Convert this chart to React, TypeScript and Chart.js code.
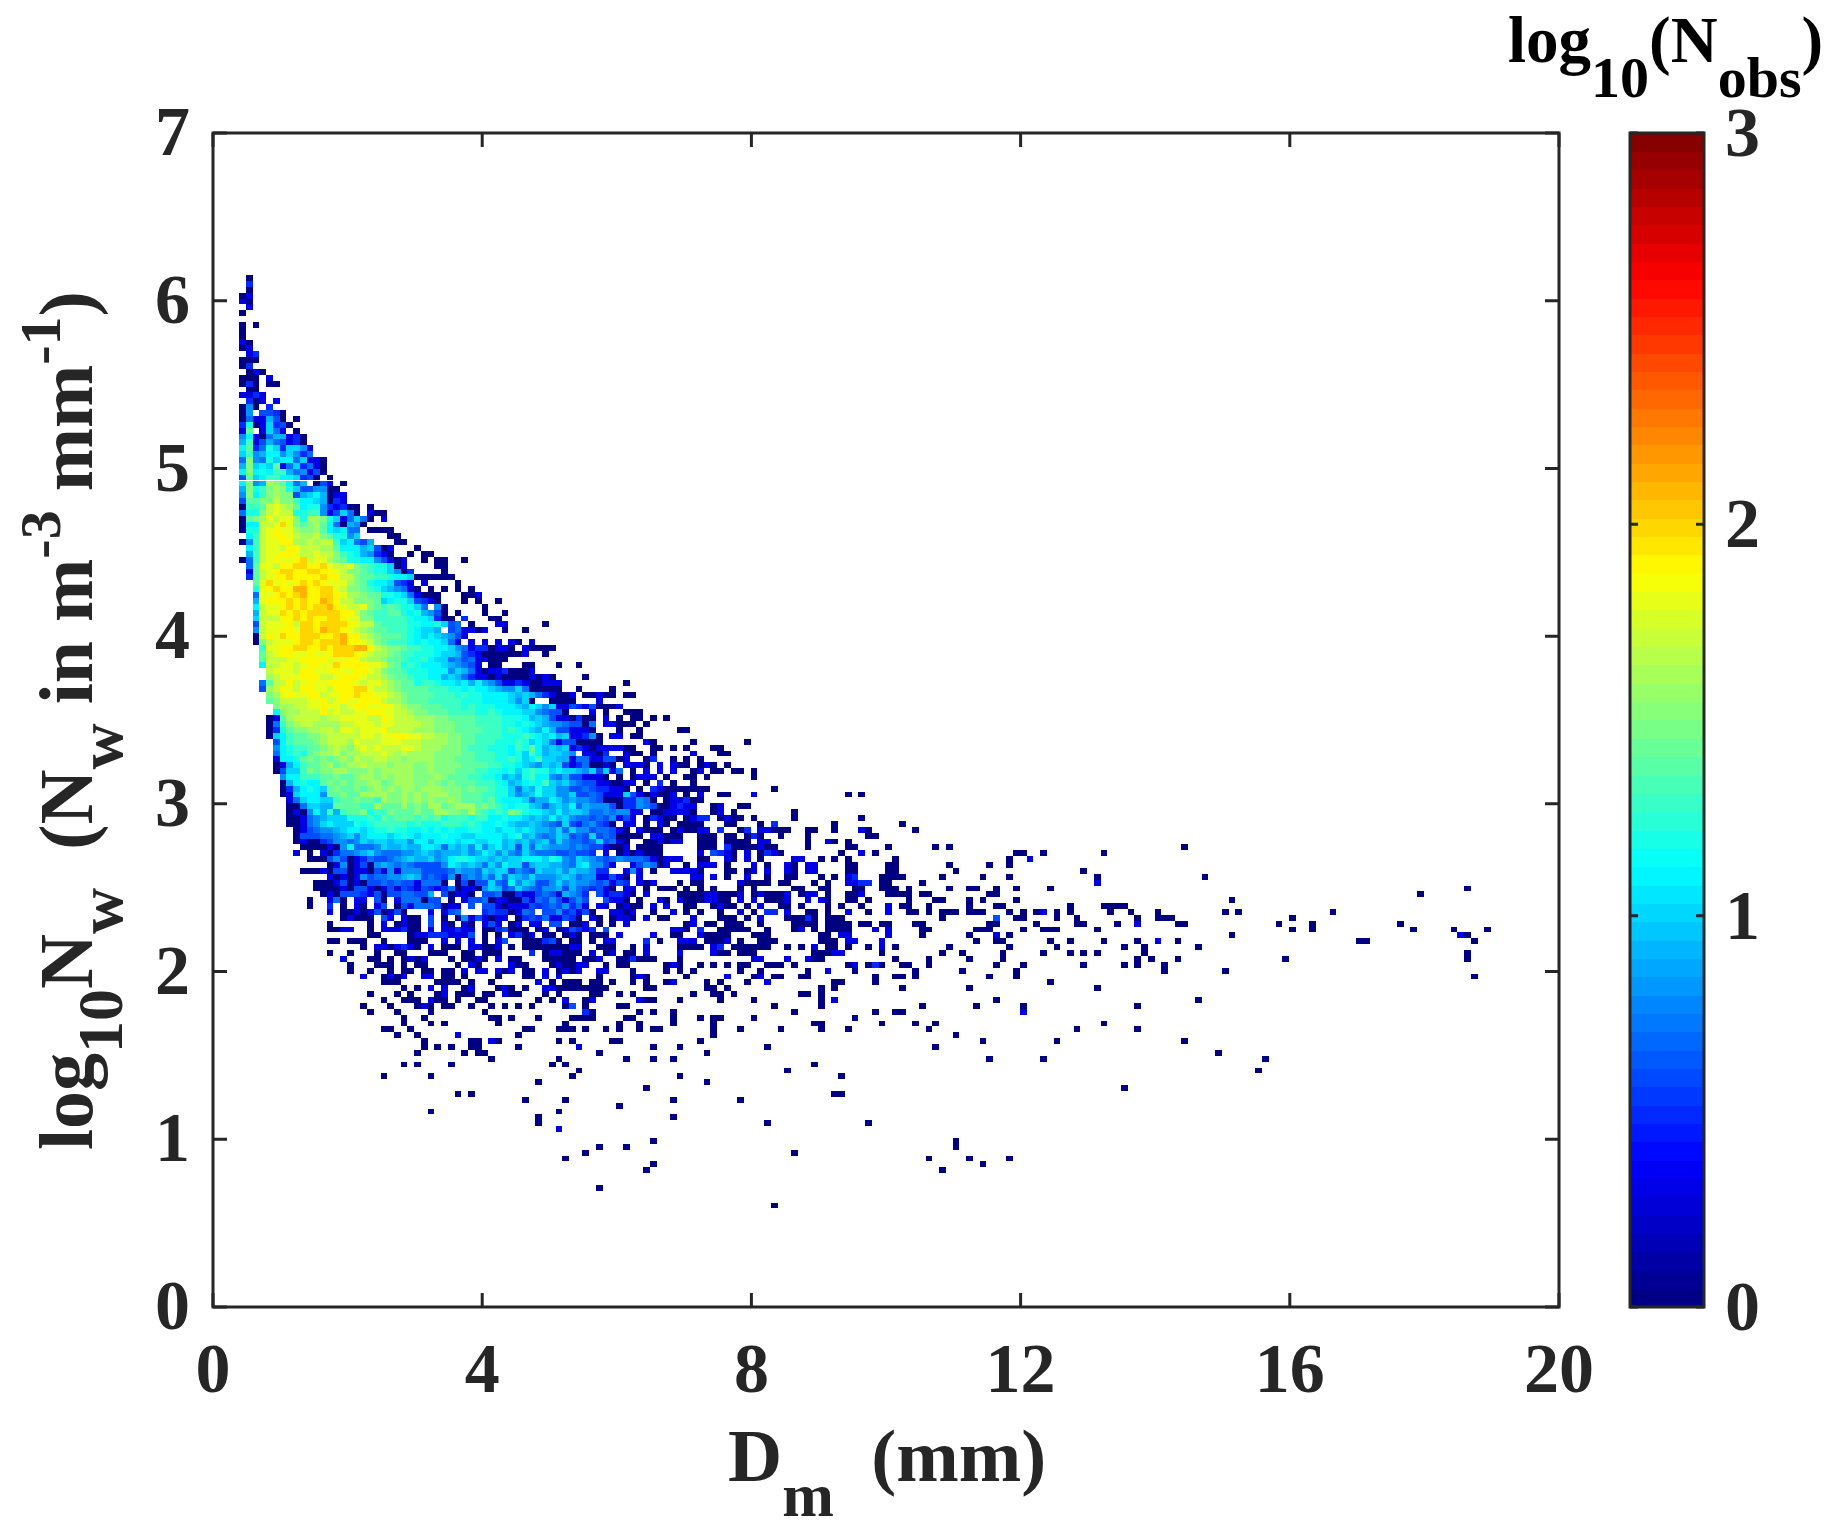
import React, { useEffect, useRef } from "react";
import { Chart, registerables, ScatterController, PointElement } from "chart.js";

Chart.register(...registerables);

// Histogram cells. Each entry: [row index, "col:levels col:levels"].
// A level is one base-36 digit = 10*log10(Nobs); "." is an empty cell.
const topRows: [number, string][] = [
  [175,"5:0"],[174,"5:5"],[173,"5:0"],[172,"4:03"],[171,"4:30"],[170,"5:3"],[169,"4:0"],
  [167,"4:0.0"],[166,"4:0"],[165,"4:0"],[164,"4:30"],[163,"4:03"],[162,"5:35"],[161,"4:000"],
  [160,"4:05"],[159,"5:030"],[158,"4:000 8:3"],[157,"4:050 8:00"],[156,"5:00"],[155,"4:3353"],
  [154,"5:503 9:3"],[153,"4:080 8:5"],[152,"4:08 7:6650"],[151,"4:0733960 12:0"],
  [150,"4:5c03a560"],[149,"4:3e 7:3a73 12:0"],[148,"4:8b30799350"],[147,"4:9d36976350"],
  [146,"4:be57ca5aa83"],[145,"4:ad89bb8a857"],[144,"4:7f87cabb7a33 16:0"],[143,"4:9fabae37a5730"],
  [142,"4:bfbcbdd978360"],[141,"4:6eabddbba560 17:0"],[140,"4:bf89gfeb79 15:06 17:3 19:0"],
  [139,"4:9fcdfgfca668800"],[138,"4:8fbdfgff69ab90 18:33"],[137,"4:6eeffhffdbba9053"],
  [136,"4:0ddehihgebcc853500 23:0"],[135,"4:7ccfhihhccdd836a70 23:300"],
  [134,"4:0efgihiifcggfca37a70 25:3"],[133,"4:0bbhhikifefgeb7098 22:0"],
  [132,"4:0cchijiigffgebab77 23:0000"],[131,"5:bdhijjihgghfecc8a 26:00"],
  [130,"4:08dhiijjgghghhdab769 27:00"],[129,"5:bdhiihjjhhhggebbb9a6 25:03 30:0"],
  [128,"5:9dhiijjihhihhfdcb98530 29:0.00"],
];

const coreRows: [number, string][] = [
  [127,"4:07dhijiijkhiigfeccbb86303 31:0.00..0"],
  [126,"5:7eiihjjkkjjkihhifedcca03 33:00"],
  [125,"5:3ehijkkjjkkjjihffedcca805 34:0"],
  [124,"5:5ehijjkjjjjkjjhhfeeddcbba000000"],
  [123,"6:eikijijkjkjiiigfecbba653.3 36:0"],
  [122,"6:cijkjjlljjkkihffedca98730.0.0.0.0"],
  [121,"6:7iijkjkljjkkjiggfeeccba73000 37:003"],
  [120,"6:9ijjjkjkjjlkjhhfffeabcca6530 37:0.0..0"],
  [119,"6:bhiijkjkjkkljihhifededcca7.80 40:0"],
  [118,"6:9hiikjkjkkkkkjjhfeddeecbc9860 36:0...0..0"],
  [117,"6:ahhhjjkjkjjkkjiiffdddddcbba500 37:5 41:00"],
  [116,"6:6hiiijhkkjkkkkjihheddddccbbca67.0 42:33 49:0"],
  [115,"6:8hiijjikkjlkkjihgfeedddcbaa9.673303 43:0..0"],
  [114,"6:0hjikjjkkkjjkljjhgfeeedcbaba9863"],
  [113,"6:0fhiiijkkjkkkljjihfedddcbcbba73.3.3.3.30 47:3"],
  [112,"7:diijjkkjjkjkkklljhgffeddccbba873550330.30000 49:3"],
  [111,"7:ehijjiijiijkkkjihggfeddcccbaa9653000000 46:3..0"],
  [110,"7:ehhhiijjjjiiijjhggfeedccdbaa786733000 43:3"],
  [109,"7:bhhiihijjiikjjjjiihfecdcbbba98763.00 46:00 51:0..0"],
  [108,"8:hiiihjjiijjiijjihfeedcccbbb8a97303350 44:5003"],
  [107,"8:ghiiijjjhhijjjihhgfeedccbb9a975330300 45:00303 50:0 55:0"],
  [106,"7:7ehhjhijiijjjjihiihgfeecddcbbab9b98633530 48:0333 61:0"],
  [105,"7:6ghjihjjiihjjjkkihhgfeeeedddccbcbba988a7 47:00000..0 59:0"],
  [104,"8:fgijiijjhiijjkjjiihgfeeeedddcdccbbbba9a9753003.03300.00 55:30"],
  [103,"8:efhhhhiijhijiijjjhggfeeedddddcccbbbba8a7 47:0..0000...3"],
  [102,"9:fgghhiijiihijjiijihgffeeedddcdcccbbba9ba8a3365360003"],
  [101,"9:bfgghhhjhihhiijjiihhgffeeeddddccdcbbbaa87660...3.0..000"],
  [100,"8:03eghhhhghhiiiihhjihhhgggffeeeeddddcccb9a96330500.3.0.00.0.0"],
  [99,"8:07dfghhgggghhiiihiihhhhggfffeeeddddccbcba98876607.33000.0"],
  [98,"8:05ceffgghhgiihiiijhhhhgggfffeeeedddcdcba9b9663330...0 63:0 69:00"],
  [97,"8:0abdeeffghhhhhiihiijjiihhggffeeddddcccdcbab9ab358 53:35..0.33.00"],
  [96,"9:6bdeeefghhhgihhhiiihhhggggffeedddcccdcaba73660000......30 71:0 79:0"],
  [95,"9:8bcddeefghgfhihihhhiihgggfffedddcccbdceb9a9a3530333300..00.0.0...00"],
  [94,"9:7bcdcefgghfgghhhihghggggffffeedddccbcadb9aa98.3305..300.0.....3...0 76:0"],
  [93,"9:3bbcefefefgfhgghhggfggggfffeeedddccdcabdaa99377336603..05..0.0.0"],
  [92,"9:039bdeefgefgghgggfgggffgffffeeeeddccba98a9a63570030.3330.3.300.030.0"],
  [91,"9:06aadfeffggfffgfgggggffgfffeeeddccbcacdccabaa98a6a37.0.3.3.3..03.00.00.0"],
  [90,"10:8bbdddeefeefggfgfgggfffgfeeeddccb9a9cdbb879663330.0.0333.0..00.0 80:0"],
  [89,"10:09bcbbefefeffggefgggffgfefeeedddcb9abcbda9a8766330033.0.5.0 71:0"],
  [88,"10:059bcbaefeefefgfgfggfgggfffefeedcca7a9caa88667655330.0.530000000 83:0"],
  [87,"10:03abbb8eefeeggggffgfgfgggffeeeddcca89acaa88a6676333a6303003.0.3..00 80:3 94:0 96:0"],
  [86,"11:37abbaadeefeedgffgfgfgffgfeeedecbbba799ba89887600055870.033530 71:03"],
  [85,"11:007aa99eeeeddgeeegefeggefgggefedcbcca979a9b798886055876003535...3..0 71:3 74:0 79:0"],
  [84,"11:0308b9d9deefcddfeeefeeggffegedcdcfecbba9b9aa977878833.00333.0 67:3333 74:03 77:0 86:0"],
  [83,"11:003789aaacccdcedeeededecdddcddbbcbba9a9b9a8776768363.05333.0 67:00 70:03 72:55 75:03 77:00 80:0 86:0 96:0"],
  [82,"11:00378abaaacbcdddddcdcccdddcdcbbcba99a9876a6578650.33.0.30.000 71:30 76:00 81:0.5 92:0"],
  [81,"12:0367889abbabccdccbbcbcbcbbccbbabbaba998a7a88677630.3000.0300 72:33 75:5 78:05 81:33000..00..0...30"],
  [80,"12:06667789a8abbbabcbabbbcbbaabbbbabc9a878a9676a6760000.33000..0 72:000 76:00 79:05 81:0 84:0...0 97:00"],
  [79,"12:0300568878a9aa9aa8bb9bbbabbaabb9a9a89a7a87767a6730..003033..0.3 72:000 76:000 79:0 81:33 88:0..30.0"],
  [78,"13:0000308b7778a99a99bba7a9a8b8ab9a6a7a9888787663003.0000 72:00 74:0.5000 80:0300 88:0.....00 100:0"],
  [77,"12:3.0.3057789a8777889a98999a89ba8a87a8777667665.3.0303000 72:3.6 75:530 79:3 81:053 84:0 93:0 96:3 98:0"],
];

const lowerRows: [number, string][] = [
  [76,"14:000686035766789a99a89bccbaa9a9aabbbacb87a987678777630333..00 72:33 76:30 79:3 81:0 86:33..0.0.0 101:0"],
  [75,"17:038036089878766668ba9a97"],
  [74,"13:000306603306383888666679887"],
  [73,"17:303038677889a967658078797"],
  [72,"15:00036030667676637770.06066"],
  [71,"15:0000306630363653653570330"],
  [70,"16:03066653606677669.60330.66"],
  [69,"14:0..370.33.60.3777066.0.36670"],
  [68,"14:0..5.0.30.36.0637776033.6."],
  [67,"17:3 19:0030360360...3.367"],
  [66,"19:03000.63.300.6.0.0836.0"],
  [65,"17:0 23:0.3.0300.6.30.30.363.03.33.66.003.0.0.3"],
  [64,"17:0033 23:0.333500.3.33533. 40:0056000.03.036535 58:6"],
  [63,"23:00....0335553336.0.0.3503.00.030.000.3"],
  [62,"17:00.000..0...000..3.3.3.0.36..000.6 49:5.0.00.0.33"],
  [61,"22:0.3303530.3.000.33003.0.0000.00.3 50:0..3...000"],
  [60,"17:0..0...0..00...000..00.000....5.033000.3.03.0"],
  [59,"19:3...00.0.030 31:3 35:0.0030.3.00...0000 49:5 52:00.00 56:33"],
  [58,"20:0...000.0.00 36:0.30 44:3 45:00 50:0300 54:33 58:0"],
  [57,"20:0..0..0.00 31:00.00 37:3.33.3 43:03.00.3.030 54:3 57:33"],
  [56,"22:3..0303 31:33.00 37:0 42:0 46:00.3.3 57:0"],
  [55,"25:000 33:0000.0 41:0 48:3 50:0 52:00 54:0 56:00 59:0"],
  [54,"28:0.0.3 34:3 37:03 42:030.0 49:33 51:00 53:00000 58:0"],
  [53,"23:0 27:0.0 33:03.000 40:00 43:300 49:0 51:0 56:00"],
  [52,"25:0 28:000.300 34:3 36:0 39:00 48:0 50:0 52:3 55:03"],
  [51,"22:0 26:0 30:030 34:00 38:0 41:0 43:0 45:0 47:0 52:06 55:0"],
  [50,"23:0 27:0 32:0 40:0 55:50"],
  [49,"28:0 31:0 41:00 44:0 48:0 53:0000"],
  [48,"28:0 32:0 34:0 42:0 52:0"],
  [47,"25:00 29:0 46:00 51:00 53:0 55:0 58:0"],
  [46,"27:0 30:0 36:3 45:0"],
  [45,"31:0 38:00 41:30 51:0 53:0 59:0"],
  [44,"31:0 33:0 35:0 38:00 45:0 54:3"],
  [43,"30:0 37:0 39:00 57:0"],
  [42,"41:0 51:0"],
  [41,"28:0 30:0 35:0 50:0 52:0"],
  [40,"54:0"],
  [39,"25:0 32:0 53:0"],
  [38,"48:0"],
  [36,"36:0 38:0"],
  [35,"46:0 52:0"],
  [33,"32:0 51:0"],
  [32,"48:0"],
  [31,"48:0"],
  [30,"51:3"],
  [27,"57:0"],
  [26,"55:0"],
  [25,"52:0"],
  [20,"57:0"],
];

// Columns 40 and up of the rows between log10(Nw) = 2.1 and 2.65.
const midRows: [number, string][] = [
  [75,"41:a8 43:baa69aa9987ab8863 62:36870 67:3 70:0 72:333 76:0 80:3 82:0 85:30 88:33 94:00 100:00"],
  [74,"40:a9a 43:a6876a99a8a99855 61:383 65:0 68:3333 72:0 76:00 79:03 82:3 85:30 88:33 94:00 100:00"],
  [73,"40:98a 43:7a98a8889a978 56:8 57:33630.3 71:33 74:3 76:0 79:3 82:0 85:00 90:0 92:0 94:35 99:0000"],
  [72,"40:9a7 43:6b8a9668a8988 56:76 58:7365.303 69:0 71:00 78:3 79:0000 84:00 89:0 91:0 94:3355 99:00"],
  [71,"40:8a9 43:67a87688969 54:765 57:630.33.0 66:000 70:0 72:0 74:0 78:0 80:0 86:00 90:00 95:00 99:00 101:0"],
  [70,"40:6a7 43:0053367639875 57:635530 64:3 69:0000 73:33 75:000 78:3 80:0 81:3 82:000 85:3 87:0 88:3 89:3 91:0 94:00 96:3 100:000"],
  [69,"40:773 43:3006376863686 58:6330.0 66:30 69:3000 73:33 75:00.3 80:3 82:000 85:3 88:3 90:3 91:0 94:00 97:0"],
  [68,"40:663 43:0333656768573 57:33.03 62:00.3 67:3 70:00 74:03 76:00 79:0 81:3 84:00 87:0 91:0 93:0 96:0 100:3"],
  [67,"40:565 43:50376.66856360 59:3303 65:0 68:3.0.0 72:3 75:0 78:3.0 82:55 85:3 88:00 91:0 94:3 97:0 100:3"],
  [66,"40:363 43:3.0565733650 56:30.0330 64:3 66:00 71:3 75:000 79:0 81:3 85:0 86:00 88:5 89:0 91:00 93:0"],
  [65,"70:03 73:00 76:000 81:0 86:00 88:00 91:00 93:00 96:00 99:00"],
  [64,"68:330 72:5 75:000 78:0 79:0 82:0 86:0 87:3 89:0 91:000 94:0 98:3 100:3"],
  [63,"65:3 68:00 72:3 73:000 76:0 80:000 90:00 93:33 100:3"],
  [62,"64:5 66:0 69:333 73:000 76:3 78:0 81:000 83:0 90:000 94:33 99:3"],
  [61,"62:0.3 69:0000 74:3 75:5 77:000 80:000 85:0 87:0 89:3 91:00 94:0 97:0 99:3 101:0"],
  [60,"62:0 64:3 69:3 74:3 75:00 78:00 80:0 89:000 92:33 99:0"],
];

const tailRows: [number, string][] = [
  [59,"57:3 60:005000 69:0 80:33 85:3 88:300 101:0 106:0 112:0 117:0 137:0 139:0 143:0 159:0 186:0"],
  [58,"58:0 60:00 67:030 72:0 74:0 76:0 78:00 82:000 86:0 94:03 97:050 102:00 106:0 116:0 120:0 129:0 135:0 137:0 141:0"],
  [57,"57:33 62:0 67:0 69:0 71:0 78:0 81:0 88:0 91:3 95:0 104:0 111:0 119:0 141:0 150:0"],
  [56,"57:0 62:030 70:0 76:3 80:03 83:00 87:00 98:0 101:00 104:0 115:0 119:0 187:0"],
  [55,"57:0 59:0 62:0 64:0 67:03 73:0 75:0 79:0 82:3 92:00 98:0 124:0"],
  [54,"58:0 64:00 73:00 76:0 90:0 92:0 102:0 112:0 131:0"],
  [53,"57:0 60:0 62:0 71:0 74:00 77:0 87:00 90:0"],
  [52,"63:300 69:0 75:0 80:0 90:0 92:3 116:0 146:0"],
  [51,"60:00 83:0 90:0 105:0 113:0 120:0 137:0"],
  [50,"63:0 65:0 68:0 86:0 98:0 101:00 120:3"],
  [49,"61:00 68:0 72:0 74:0 75:0 80:0 95:0"],
  [48,"60:0 63:0 68:0 74:0 89:00 99:0 104:0 107:0 132:0"],
  [47,"58:0 60:0 63:0 65:00 74:0 78:0 84:0 90:0 94:0 106:0 128:0 137:0"],
  [46,"74:0 110:0"],
  [45,"59:00 72:0 114:0 125:0 144:0"],
  [44,"65:0 69:0 82:0 107:0"],
  [43,"57:0 73:0 149:0"],
  [42,"61:0 65:0 68:0 115:0 123:0 156:0"],
  [41,"89:0"],
  [40,"85:0 155:0"],
  [39,"69:0 93:0"],
  [38,"73:0"],
  [37,"64:0 135:0"],
  [36,"92:0 93:0"],
  [35,"68:0 78:0"],
  [34,"60:0"],
  [32,"68:0"],
  [31,"82:0 97:0"],
  [28,"65:0 110:0"],
  [27,"57:0 61:0 110:0"],
  [26,"86:0"],
  [25,"106:0 112:0 118:0"],
  [24,"65:0 114:0"],
  [23,"64:0 108:0"],
  [20,"57:0"],
  [17,"83:0"],
];

const farRows: [number, string][] = [
  [82,"102:0"],[81,"104:0"],[78,"107:0.0 144:0"],[77,"119:00 123:0 132:0"],[76,"118:0..3"],
  [75,"109:0 115:0 118:0"],[74,"110:0 129:0"],[73,"102:0 108:0 114:0 118:0 131:0 147:0"],
  [72,"105:0 131:3"],[71,"103:0 109:0 112:00 116:0 119:0 124:0 186:0"],
  [70,"103:0 105:00 115:00 179:0"],[69,"103:0 107:00 112:0 114:0 119:0 151:0"],
  [68,"102:00 106:0 112:0 116:00 127:0 132:0000"],
  [67,"103:00 106:0 108:000 112:000 118:0 120:0 122:03 125:0 127:0 133:0 136:0 140:0 150:0 152:0 166:0"],
  [66,"108:0 116:6 119:00 125:0 128:0 137:0 140:0 141:00 160:0"],
  [65,"104:00 115:00 122:0 128:00 134:0 137:3 143:00 158:0 163:0 176:0"],
  [64,"105:00 113:000 120:0 123:000 131:0 160:0 163:0 178:0 184:0 189:0"],
  [63,"105:0 112:0 116:3 118:0 151:0 185:30"],
  [62,"113:0 116:00 124:0 127:0 132:0 137:0 140:3 143:0 170:00 187:0"],
  [61,"109:0 118:0 125:0 135:0 138:0 146:0"],
  [60,"108:0 111:0 117:0 123:0 127:0 129:0 131:0 138:0 186:0"],
];

const tickValuesX = [0, 4, 8, 12, 16, 20];
const tickValuesY = [0, 1, 2, 3, 4, 5, 6, 7];
const tickValuesBar = [0, 1, 2, 3];
const COL_STEP = 0.1;
const ROW_STEP = 0.035;
const COLORS = 64;
const INK = "#262626";
const FONT = '"Liberation Serif"';

function jet(v: number): string {
  const ramp = (c: number) => Math.max(0, Math.min(1, 1.5 - Math.abs(4 * v - c)));
  const r = ramp(3), g = ramp(2), b = ramp(1);
  return `rgb(${Math.round(r * 255)},${Math.round(g * 255)},${Math.round(b * 255)})`;
}

class CellPoint extends PointElement {
  static id = "cellPoint";
  draw(ctx: CanvasRenderingContext2D) {
    const o: any = (this as any).options;
    const x = (this as any).x, y = (this as any).y;
    const l = Math.round(x - 3.365), r = Math.round(x + 3.365);
    const t = Math.round(y - 2.93), b = Math.round(y + 2.93);
    ctx.fillStyle = o.backgroundColor;
    ctx.fillRect(l, t, r - l, b - t);
  }
}
class CellController extends ScatterController {
  static id = "cells";
  static defaults = { ...(ScatterController as any).defaults, dataElementType: "cellPoint", showLine: false };
}
Chart.register(CellController as any, CellPoint as any);

function buildDatasets() {
  const byLevel = new Map<number, { x: number; y: number }[]>();
  const all = [...topRows, ...coreRows, ...lowerRows, ...midRows, ...tailRows, ...farRows];
  for (const [row, spec] of all) {
    for (const token of spec.trim().split(/\s+/)) {
      const [c, levels] = token.split(":");
      const start = parseInt(c, 10);
      [...levels].forEach((ch, i) => {
        if (ch === ".") return;
        const lv = parseInt(ch, 36);
        if (!byLevel.has(lv)) byLevel.set(lv, []);
        byLevel.get(lv)!.push({ x: (start + i + 0.4) * COL_STEP, y: (row + 0.3) * ROW_STEP });
      });
    }
  }
  return [...byLevel.entries()].sort((a, b) => a[0] - b[0]).map(([lv, data]) => ({
    label: `log10(Nobs)=${lv / 10}`,
    data,
    backgroundColor: jet((lv / 10) / 3),
    showLine: false,
    yAxisID: "y",
    xAxisID: "x",
  }));
}

type Run = { t: string; size: number; dy: number };
function drawRuns(ctx: CanvasRenderingContext2D, runs: Run[], color: string) {
  let x = 0;
  ctx.fillStyle = color;
  ctx.textAlign = "left";
  ctx.textBaseline = "alphabetic";
  for (const r of runs) {
    ctx.font = `bold ${r.size}px ${FONT}`;
    ctx.fillText(r.t, x, r.dy);
    x += ctx.measureText(r.t).width;
  }
}

const framePlugin = {
  id: "frame",
  beforeDatasetsDraw(chart: any) {
    const { ctx, scales } = chart;
    const bar = scales.bar;
    const left = 1630, right = 1704;
    ctx.save();
    for (let i = 0; i < COLORS; i++) {
      const t = bar.getPixelForValue(((i + 1) / COLORS) * 3);
      const b = bar.getPixelForValue((i / COLORS) * 3);
      ctx.fillStyle = jet((i + 0.5) / COLORS);
      ctx.fillRect(left, Math.floor(t), right - left, Math.ceil(b) - Math.floor(t));
    }
    ctx.restore();
  },
  afterDatasetsDraw(chart: any) {
    const { ctx, scales, chartArea: a } = chart;
    const bar = scales.bar;
    const left = 1630, right = 1704, L = 14;
    ctx.save();
    ctx.strokeStyle = INK;
    ctx.lineWidth = 3;
    ctx.strokeRect(a.left, a.top, a.right - a.left, a.bottom - a.top);
    ctx.strokeRect(left, a.top, right - left, a.bottom - a.top);
    ctx.beginPath();
    for (const tk of scales.x.ticks) {
      const p = scales.x.getPixelForValue(tk.value);
      ctx.moveTo(p, a.bottom); ctx.lineTo(p, a.bottom - L);
      ctx.moveTo(p, a.top); ctx.lineTo(p, a.top + L);
    }
    for (const tk of scales.y.ticks) {
      const p = scales.y.getPixelForValue(tk.value);
      ctx.moveTo(a.left, p); ctx.lineTo(a.left + L, p);
      ctx.moveTo(a.right, p); ctx.lineTo(a.right - L, p);
    }
    for (const tk of bar.ticks) {
      const p = bar.getPixelForValue(tk.value);
      ctx.moveTo(left, p); ctx.lineTo(left + 8, p);
      ctx.moveTo(right, p); ctx.lineTo(right - 8, p);
    }
    ctx.stroke();

    ctx.save();
    ctx.translate(728, 1481);
    drawRuns(ctx, [
      { t: "D", size: 75, dy: 0 },
      { t: "m", size: 62, dy: 35 },
      { t: "  (mm)", size: 75, dy: 0 },
    ], INK);
    ctx.restore();

    ctx.save();
    ctx.translate(92, 1150);
    ctx.rotate(-Math.PI / 2);
    drawRuns(ctx, [
      { t: "log", size: 76, dy: 0 },
      { t: "10", size: 64, dy: 30 },
      { t: "N", size: 76, dy: 0 },
      { t: "w", size: 64, dy: 30 },
      { t: "  (N", size: 76, dy: 0 },
      { t: "w", size: 64, dy: 30 },
      { t: " in m", size: 76, dy: 0 },
      { t: "-3", size: 58, dy: -32 },
      { t: " mm", size: 76, dy: 0 },
      { t: "-1", size: 58, dy: -32 },
      { t: ")", size: 76, dy: 0 },
    ], INK);
    ctx.restore();

    ctx.save();
    ctx.translate(1508, 62);
    drawRuns(ctx, [
      { t: "log", size: 65, dy: 0 },
      { t: "10", size: 58, dy: 35 },
      { t: "(N", size: 65, dy: 0 },
      { t: "obs", size: 58, dy: 35 },
      { t: ")", size: 65, dy: 0 },
    ], "#000000");
    ctx.restore();
    ctx.restore();
  },
};

const noMargins = (s: any) => { s.paddingTop = 0; s.paddingBottom = 0; s.paddingLeft = 0; s.paddingRight = 0; };

export default function App() {
  const ref = useRef<HTMLCanvasElement>(null);
  useEffect(() => {
    document.body.style.margin = "0";
    const tickFont = { family: FONT, size: 70, weight: "bold" as const };
    const chart = new Chart(ref.current!, {
      type: "cells" as any,
      data: { datasets: buildDatasets() as any },
      plugins: [framePlugin as any],
      options: {
        animation: false,
        responsive: false,
        events: [],
        layout: { padding: { top: 133, left: 0, right: 0, bottom: 0 } },
        plugins: { legend: { display: false }, tooltip: { enabled: false } },
        scales: {
          x: {
            type: "linear", position: "bottom", min: 0, max: 20,
            afterFit: (s: any) => { s.height = 226; noMargins(s); },
            afterBuildTicks: (s: any) => { s.ticks = tickValuesX.map((value) => ({ value })); },
            grid: { display: false }, border: { display: false },
            ticks: { font: tickFont, color: INK, padding: 17, maxRotation: 0, autoSkip: false },
          },
          y: {
            type: "linear", position: "left", min: 0, max: 7,
            afterFit: (s: any) => { s.width = 213; noMargins(s); },
            afterBuildTicks: (s: any) => { s.ticks = tickValuesY.map((value) => ({ value })); },
            grid: { display: false }, border: { display: false },
            ticks: { font: tickFont, color: INK, padding: 15, autoSkip: false, labelOffset: 4 },
          },
          bar: {
            type: "linear", position: "right", min: 0, max: 3,
            afterFit: (s: any) => { s.width = 281; noMargins(s); },
            afterBuildTicks: (s: any) => { s.ticks = tickValuesBar.map((value) => ({ value })); },
            grid: { display: false, drawTicks: false }, border: { display: false },
            ticks: { font: tickFont, color: INK, padding: 166, autoSkip: false, labelOffset: 5 },
          },
        },
      } as any,
    });
    return () => chart.destroy();
  }, []);
  return <canvas ref={ref} width={1840} height={1533} style={{ display: "block" }} />;
}
